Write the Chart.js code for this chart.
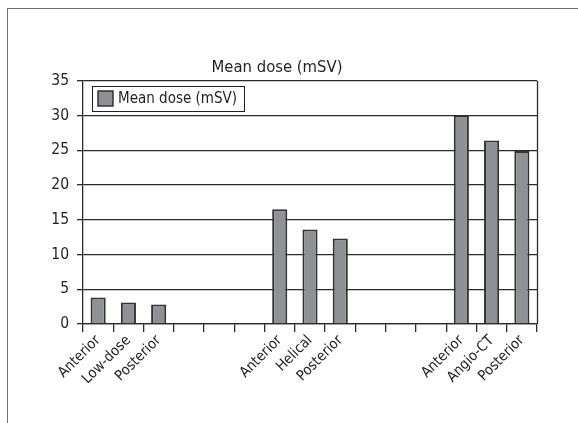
<!DOCTYPE html>
<html>
<head>
<meta charset="utf-8">
<script src="https://cdn.jsdelivr.net/npm/chart.js@4.4.0/dist/chart.umd.min.js"></script>
<style>
  html, body { margin: 0; padding: 0; background: #fff; overflow: hidden; }
  body { width: 578px; height: 423px; position: relative; }
  .frame { position: absolute; left: 7px; top: 8px; width: 600px; height: 430px; border: 1px solid #6d6e71; }
  .chartBox { position: absolute; left: 8px; top: 9px; width: 540px; height: 413px; }
</style>
</head>
<body>
<div class="frame"></div>
<div class="chartBox"><canvas id="doseChart" width="540" height="413"></canvas></div>
<script>
// three groups of projections, separated by empty slots
const categories = ['Anterior', 'Low-dose', 'Posterior', '', '', '',
  'Anterior', 'Helical', 'Posterior', '', '', '',
  'Anterior', 'Angio-CT', 'Posterior'];
const meanDose = [3.8, 3.1, 2.8, null, null, null,
  16.5, 13.6, 12.3, null, null, null,
  30.0, 26.4, 24.9];
const yTicks = [0, 5, 10, 15, 20, 25, 30, 35];
const seriesName = 'Mean dose (mSV)';

const fontFamily = '"Liberation Sans Narrow", "DejaVu Sans Condensed", sans-serif';
const ink = '#231f20';
const lineInk = '#2b2b2b';

// legend box drawn inside the plot, top-left, with a frame
const boxedLegend = {
  id: 'boxedLegend',
  afterDraw(chart) {
    const ctx = chart.ctx;
    const area = chart.chartArea;
    const ds = chart.data.datasets[0];
    ctx.save();
    ctx.font = '15px ' + fontFamily;
    const textW = ctx.measureText(ds.label).width;
    const x = Math.round(area.left) + 9, y = Math.round(area.top) + 5;
    const w = 28 + textW + 5, h = 25;
    ctx.fillStyle = '#fff';
    ctx.fillRect(x, y, w, h);
    ctx.strokeStyle = ink;
    ctx.lineWidth = 1;
    ctx.strokeRect(x + 0.5, y + 0.5, w, h);
    ctx.fillStyle = ds.backgroundColor;
    ctx.fillRect(x + 6, y + 5, 15, 15);
    ctx.strokeStyle = ds.borderColor;
    ctx.lineWidth = 1.5;
    ctx.strokeRect(x + 6, y + 5, 15, 15);
    ctx.fillStyle = ink;
    ctx.textBaseline = 'middle';
    ctx.fillText(ds.label, x + 26, y + h / 2 + 1);
    ctx.restore();
  }
};

// right edge of the plot area
const plotFrame = {
  id: 'plotFrame',
  afterDatasetsDraw(chart) {
    const { ctx, chartArea: a } = chart;
    ctx.save();
    ctx.strokeStyle = lineInk;
    ctx.lineWidth = 1.3;
    ctx.beginPath();
    ctx.moveTo(Math.round(a.right) + 0.5, a.top);
    ctx.lineTo(Math.round(a.right) + 0.5, a.bottom);
    ctx.stroke();
    ctx.restore();
  }
};

new Chart('doseChart', {
  type: 'bar',
  data: {
    labels: categories,
    datasets: [{
      label: seriesName,
      data: meanDose,
      backgroundColor: '#909194',
      borderColor: '#333333',
      borderWidth: 2,
      barPercentage: 0.5,
      categoryPercentage: 1.0
    }]
  },
  options: {
    responsive: false,
    animation: false,
    layout: { padding: { left: 9, right: 11, top: 0, bottom: 36 } },
    plugins: {
      legend: { display: false },
      tooltip: { enabled: false },
      title: {
        display: true,
        text: seriesName,
        color: ink,
        font: { family: fontFamily, size: 16.5, weight: 'normal' },
        padding: { top: 49, bottom: 3 }
      }
    },
    scales: {
      x: {
        offset: true,
        grid: { offset: true, drawOnChartArea: false, drawTicks: true, tickLength: 8, color: lineInk, lineWidth: 1.3 },
        border: { color: lineInk, width: 1.3 },
        ticks: {
          color: ink,
          autoSkip: false,
          minRotation: 45,
          maxRotation: 45,
          padding: 0,
          font: { family: fontFamily, size: 14.5 }
        },
        afterFit(scale) { scale.height = 62; }
      },
      y: {
        min: 0,
        max: 35,
        afterBuildTicks(scale) { scale.ticks = yTicks.map(v => ({ value: v })); },
        grid: { color: lineInk, lineWidth: 1.3, tickLength: 6 },
        border: { color: lineInk, width: 1.3 },
        ticks: {
          color: ink,
          padding: 8,
          font: { family: fontFamily, size: 15.5 }
        },
        afterFit(scale) { scale.width = 66; }
      }
    }
  },
  plugins: [boxedLegend, plotFrame]
});
</script>
</body>
</html>
